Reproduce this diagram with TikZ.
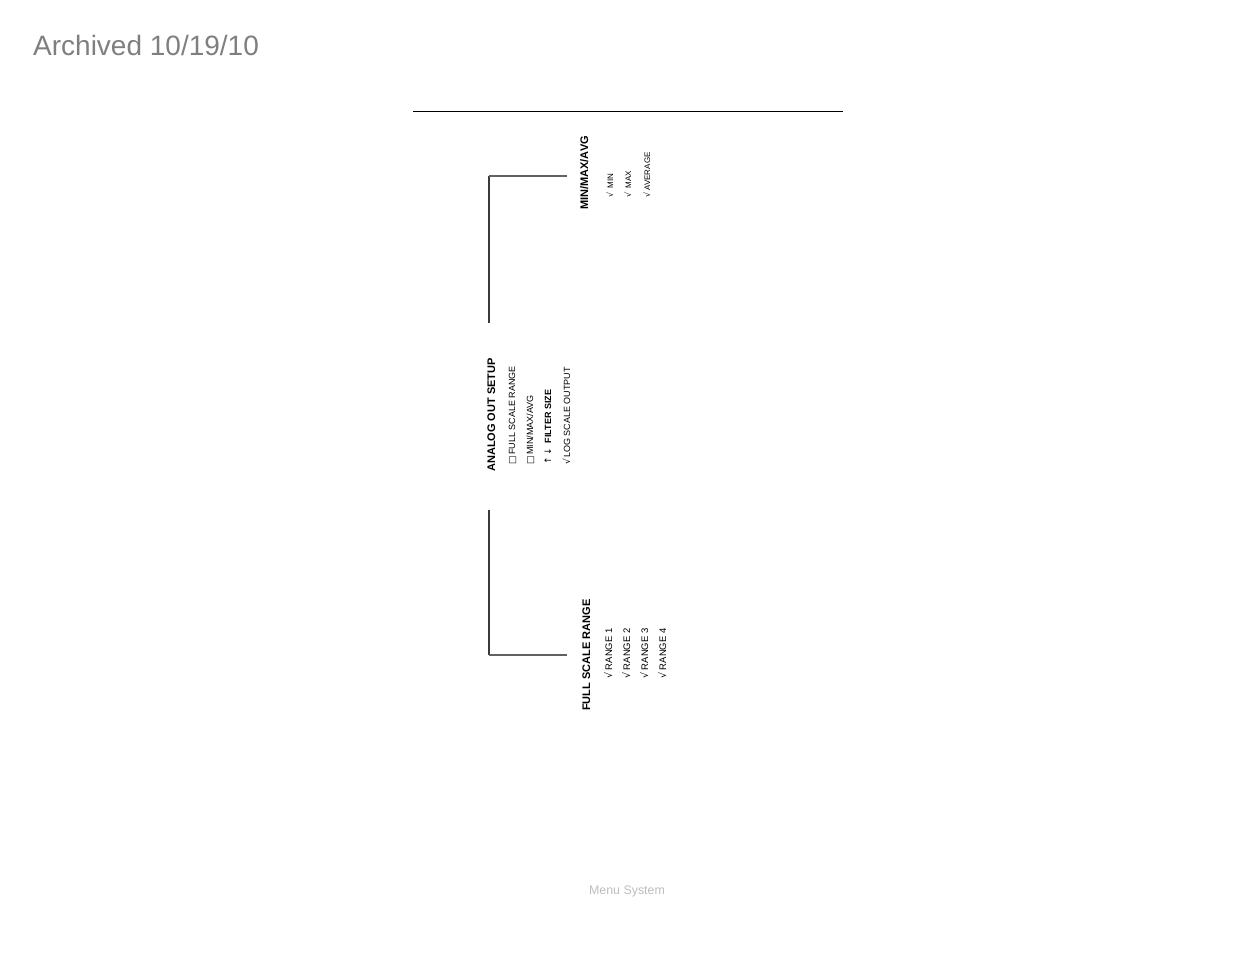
\documentclass[tikz,border=0pt]{standalone}
\usepackage{fontspec}
\setmainfont{Liberation Sans}
\newfontfamily\symf{DejaVu Sans}
\definecolor{archgray}{HTML}{7F7F7F}
\definecolor{footgray}{HTML}{BDBDBD}
\definecolor{linegray}{HTML}{3A3A3A}
\begin{document}
\begin{tikzpicture}[x=1pt,y=-1pt,
  heading/.style={rotate=90,anchor=base west,inner sep=0pt,font=\fontsize{11}{12}\selectfont\bfseries},
  itemA/.style={rotate=90,anchor=base west,inner sep=0pt,font=\fontsize{8}{9}\selectfont},
  itemB/.style={rotate=90,anchor=base west,inner sep=0pt,font=\fontsize{9}{10}\selectfont},
  itemC/.style={rotate=90,anchor=base west,inner sep=0pt,font=\fontsize{9.5}{10}\selectfont},
  bracket/.style={draw=linegray,line width=1.6pt},
  arm/.style={draw=linegray!80,line width=1.3pt}]
\useasboundingbox (0,0) rectangle (1235,954);
% title and footer
\node[anchor=base west,inner sep=0pt,text=archgray,font=\fontsize{28}{30}\selectfont] (arch) at (33,55) {Archived 10/19/10};
\node[anchor=base,inner sep=0pt,text=footgray,font=\fontsize{12.4}{14}\selectfont] (foot) at (627,894) {Menu System};
% rule
\coordinate (ruleL) at (413,111);
\coordinate (ruleR) at (843,111);
\draw[line width=1pt] (ruleL) -- (ruleR);
% MIN/MAX/AVG branch
\node[heading] (mma) at (588,210) {MIN/MAX/AVG};
\node[itemA] (min) at (613,198) {{\symf √}\ \ MIN};
\node[itemA] (max) at (631,198) {{\symf √}\ \ MAX};
\node[itemA] (avg) at (650,198) {{\symf √}\ AVERAGE};
% ANALOG OUT SETUP
\node[heading] (aos) at (495,472) {ANALOG OUT SETUP};
\node[itemB] (fsr) at (515,465) {{\symf □}\,FULL SCALE RANGE};
\node[itemB] (mmaI) at (533,465) {{\symf □}\,MIN/MAX/AVG};
\node[itemB] (flt) at (551,465) {{\symf ↑\,↓}\ \ \textbf{FILTER SIZE}};
\node[itemB] (log) at (570,465) {{\symf √}\,LOG SCALE OUTPUT};
% FULL SCALE RANGE branch
\node[heading] (fsrH) at (590,711) {FULL SCALE RANGE};
\node[itemC] (r1) at (612,679) {{\symf √}\ RANGE 1};
\node[itemC] (r2) at (630,679) {{\symf √}\ RANGE 2};
\node[itemC] (r3) at (648,679) {{\symf √}\ RANGE 3};
\node[itemC] (r4) at (666,679) {{\symf √}\ RANGE 4};
% brackets
\coordinate (topStart) at (489,323);
\coordinate (topCorner) at (489,176);
\coordinate (topEnd) at (567,176);
\draw[bracket] (topStart) -- (topCorner);
\draw[arm] (topCorner) -- (topEnd);
\coordinate (botStart) at (489,510);
\coordinate (botCorner) at (489,655);
\coordinate (botEnd) at (567,655);
\draw[bracket] (botStart) -- (botCorner);
\draw[arm] (botCorner) -- (botEnd);
\end{tikzpicture}
\end{document}
